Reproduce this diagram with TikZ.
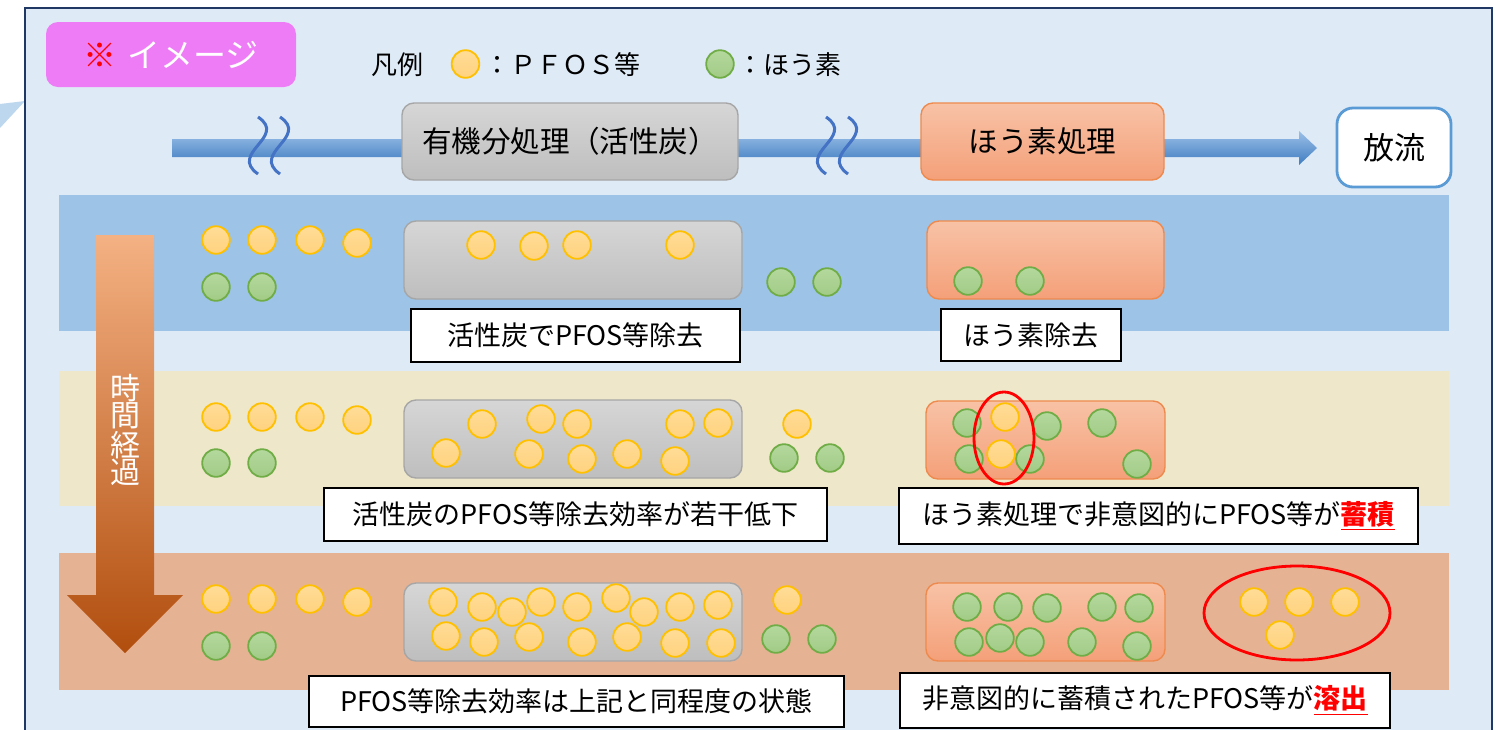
\documentclass[tikz,border=0pt]{standalone}
\usepackage{fontspec}
\setmainfont{Noto Sans CJK JP}
\definecolor{framebg}{HTML}{DEEAF6}
\definecolor{frameline}{HTML}{203864}
\definecolor{tri}{HTML}{BDD7EE}
\definecolor{bandA}{HTML}{9DC3E6}
\definecolor{bandB}{HTML}{EEE7C9}
\definecolor{bandC}{HTML}{E5B294}
\definecolor{titlebg}{HTML}{EE7CF7}
\definecolor{grayT}{HTML}{D6D6D6}
\definecolor{grayB}{HTML}{BEBEBE}
\definecolor{grayL}{HTML}{A6A6A6}
\definecolor{orT}{HTML}{F8C2A6}
\definecolor{orB}{HTML}{F4A079}
\definecolor{orL}{HTML}{EE8A4E}
\definecolor{flowT}{HTML}{9CC0E8}
\definecolor{flowB}{HTML}{3E7CC0}
\definecolor{wave}{HTML}{4472C4}
\definecolor{relL}{HTML}{5B9BD5}
\definecolor{arrT}{HTML}{F4B183}
\definecolor{arrM}{HTML}{E8772E}
\definecolor{arrB}{HTML}{B14E0E}
\definecolor{pfT}{HTML}{FFDC96}
\definecolor{pfB}{HTML}{FFD27F}
\definecolor{pfL}{HTML}{FFC000}
\definecolor{boT}{HTML}{B4D89D}
\definecolor{boB}{HTML}{A2CB86}
\definecolor{boL}{HTML}{70AD47}
\definecolor{mark}{HTML}{FF0000}
\tikzset{
  procgray/.style={rounded corners=6pt, draw=grayL, line width=0.7pt, top color=grayT, bottom color=grayB, inner sep=0pt},
  procor/.style={rounded corners=6pt, draw=orL, line width=0.7pt, top color=orT, bottom color=orB, inner sep=0pt},
  labelbox/.style={draw=black, fill=white, line width=0.6pt, inner sep=0pt, font=\fontsize{13.5pt}{14pt}\selectfont},
  pfos/.style={circle, draw=pfL, line width=0.9pt, top color=pfT, bottom color=pfB, minimum size=13.8pt, inner sep=0pt},
  boron/.style={circle, draw=boL, line width=0.9pt, top color=boT, bottom color=boB, minimum size=13.8pt, inner sep=0pt},
  wavy/.style={draw=wave, line width=1.5pt},
  markring/.style={draw=mark, line width=1.4pt},
  legendtxt/.style={anchor=west, inner sep=0pt, font=\fontsize{13pt}{14pt}\selectfont}
}
\begin{document}
\begin{tikzpicture}[x=0.5pt,y=-0.5pt]
\useasboundingbox (0,0) rectangle (1500,729);
\fill[white] (0,0) rectangle (1500,729);
% callout tip and frame
\fill[tri] (0,104) -- (25,101) -- (0,128) -- cycle;
\draw[fill=framebg, draw=frameline, line width=1pt] (25,8) rectangle (1492,760);
% bands
\fill[bandA] (59,195) rectangle (1449,331);
\fill[bandB] (59,371) rectangle (1449,506);
\fill[bandC] (59,553) rectangle (1449,690);
% title
\node[fill=titlebg, rounded corners=6pt, minimum width=125pt, minimum height=32.5pt, inner sep=0pt,
  font=\fontsize{16.5pt}{18pt}\selectfont] (title) at (171,54.5) {\textcolor{mark}{※}\hspace{0.35em}\textcolor{white}{イメージ}};
% legend
\node[inner sep=0pt, font=\fontsize{13pt}{14pt}\selectfont] (leg) at (397,65) {凡例};
\node[pfos] (legp) at (465.5,64) {};
\node[legendtxt] (legpt) at (484,65) {：ＰＦＯＳ等};
\node[boron] (legb) at (720,64) {};
\node[legendtxt] (legbt) at (737,65) {：ほう素};
% time arrow
\path[top color=arrT, middle color=arrM, bottom color=arrB]
  (96,235) -- (154,235) -- (154,595) -- (183,595) -- (125,653) -- (67,595) -- (96,595) -- cycle;
\node[text=white, align=center, inner sep=0pt, font=\fontsize{15pt}{13.7pt}\selectfont] (time) at (125,430) {時\\間\\経\\過};
% flow arrow
\coordinate (flowstart) at (172,148);
\path[top color=flowT, bottom color=flowB]
  (flowstart) ++(0,-9) -- (1299,139) -- (1299,131) -- (1317,148) -- (1299,165) -- (1299,157) -- (172,157) -- cycle;
\foreach \xx in {258,280,826,848}{
  \draw[wavy] (\xx,117) .. controls (\xx+30,137) and (\xx-30,153) .. (\xx,174);
}
% process boxes
\node[procgray, minimum width=168pt, minimum height=38.5pt, font=\fontsize{14.8pt}{16pt}\selectfont] (carbon) at (570,141.5) {有機分処理（活性炭）};
\node[procor, minimum width=121.5pt, minimum height=38.5pt, font=\fontsize{14.8pt}{16pt}\selectfont] (boronproc) at (1042.5,141.5) {ほう素処理};
\node[rounded corners=8pt, draw=relL, line width=1.4pt, fill=white, minimum width=57pt, minimum height=39.5pt, inner sep=0pt,
  font=\fontsize{15.5pt}{16pt}\selectfont] (release) at (1394,147.5) {放流};
% row boxes
\node[procgray, minimum width=169pt, minimum height=39pt] (g1) at (573,260) {};
\node[procgray, minimum width=169pt, minimum height=39pt] (g2) at (573,439) {};
\node[procgray, minimum width=169pt, minimum height=39pt] (g3) at (573,622) {};
\node[procor, minimum width=118.5pt, minimum height=39pt] (o1) at (1045.5,260) {};
\node[procor, minimum width=119.5pt, minimum height=39pt] (o2) at (1045.5,440) {};
\node[procor, minimum width=119.5pt, minimum height=39pt] (o3) at (1045.5,622) {};
% row 1 particles
\foreach \c [count=\i] in {(216,240),(262,240),(310,240),(357,243),(481,245),(534,246),(577,245),(680,245)}
  \node[pfos] (ap\i) at \c {};
\foreach \c [count=\i] in {(216,287),(262,287),(781,282),(827,282),(968,281),(1030,281)}
  \node[boron] (ab\i) at \c {};
% row 2 particles
\foreach \c [count=\i] in {(216,463),(262,463),(784,458),(830,458),(967,423),(1047,426),(1102,423),(969,459),(1030,459),(1137,464)}
  \node[boron] (bb\i) at \c {};
\foreach \c [count=\i] in {(216,417),(262,417),(310,417),(357,420),(482,424),(541,419),(577,424),(680,424),(718,423),(446,453),(529,454),(582,459),(627,454),(675,461),(797,424),(1005,417),(1001,454)}
  \node[pfos] (bp\i) at \c {};
% row 3 particles
\foreach \c [count=\i] in {(216,646),(262,646),(776,639),(822,639),(967,607),(1008,607),(1047,608),(1102,607),(1139,608),(969,642),(1000,638),(1030,642),(1082,642),(1137,646)}
  \node[boron] (cb\i) at \c {};
\foreach \c [count=\i] in {(216,599),(262,599),(310,599),(357,602),(443,602),(482,607),(512,612),(541,602),(577,607),(616,598),(644,612),(680,607),(718,605),(446,636),(484,642),(529,637),(582,642),(627,637),(675,643),(721,643),(787,600),(1254,602),(1299,602),(1345,602),(1280,635)}
  \node[pfos] (cp\i) at \c {};
% red rings
\draw[markring] (1004,438) ellipse [x radius=30, y radius=46];
\draw[markring] (1297,613) ellipse [x radius=93, y radius=47];
% labels
\node[labelbox, minimum width=164.5pt, minimum height=26.5pt] (l1a) at (575.5,335.5) {活性炭でPFOS等除去};
\node[labelbox, minimum width=90pt, minimum height=26pt] (l1b) at (1031,335) {ほう素除去};
\node[labelbox, minimum width=251.5pt, minimum height=26.5pt] (l2a) at (575.5,514.5) {活性炭のPFOS等除去効率が若干低下};
\node[labelbox, minimum width=259.5pt, minimum height=28pt] (l2b) at (1158.5,516) {ほう素処理で非意図的にPFOS等が\textcolor{mark}{\bfseries\underline{蓄積}}};
\node[labelbox, minimum width=267.5pt, minimum height=25.5pt] (l3a) at (576.5,701.5) {PFOS等除去効率は上記と同程度の状態};
\node[labelbox, minimum width=245pt, minimum height=27.5pt] (l3b) at (1145,700.5) {非意図的に蓄積されたPFOS等が\textcolor{mark}{\bfseries\underline{溶出}}};
\end{tikzpicture}
\end{document}
